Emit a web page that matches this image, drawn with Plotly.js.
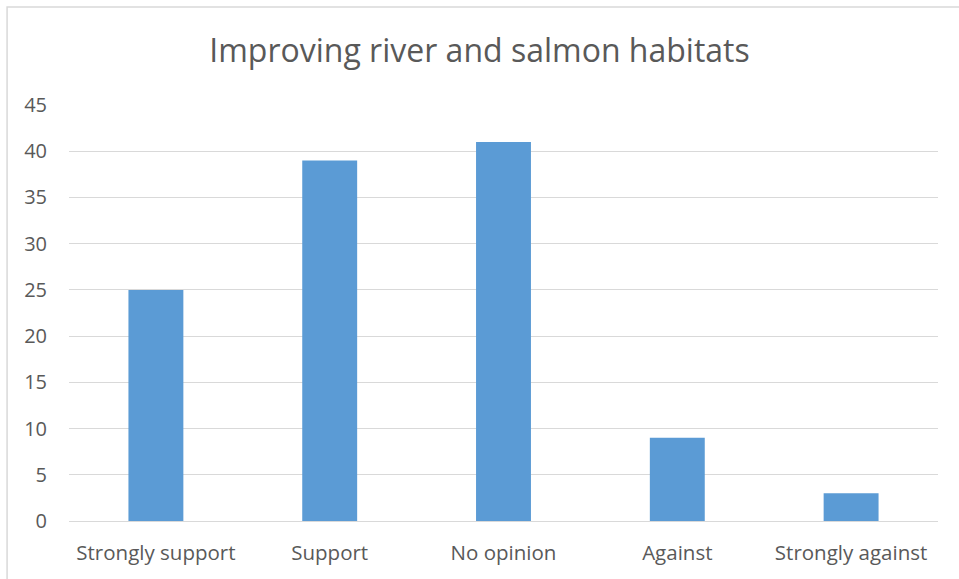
<!DOCTYPE html>
<html>
<head>
<meta charset="utf-8">
<script src="https://cdn.plot.ly/plotly-3.0.1.min.js"></script>
<style>html,body{margin:0;padding:0;background:#fff;}#chart{width:959px;height:579px;}</style>
</head>
<body>
<div id="chart"></div>
<script>
const categories = ["Strongly support", "Support", "No opinion", "Against", "Strongly against"];
const values = [25, 39, 41, 9, 3];
const yTicks = [0, 5, 10, 15, 20, 25, 30, 35, 40, 45];

const trace = {
  type: "bar",
  x: categories,
  y: values,
  marker: {color: "#5b9bd5"},
  hoverinfo: "x+y"
};

const layout = {
  width: 959,
  height: 579,
  margin: {l: 69, r: 21, t: 105, b: 58},
  paper_bgcolor: "#ffffff",
  plot_bgcolor: "#ffffff",
  bargap: 0.684,
  showlegend: false,
  font: {family: "Open Sans, Calibri, sans-serif", color: "#595959"},
  title: {
    text: "Improving river and salmon habitats",
    font: {size: 32, color: "#595959", family: "Open Sans, sans-serif"},
    x: 0.5, xanchor: "center",
    y: 1 - 51/579, yanchor: "middle"
  },
  xaxis: {
    type: "category",
    tickfont: {size: 20.5, color: "#595959"},
    showgrid: false,
    showline: true,
    linecolor: "#d9d9d9",
    linewidth: 1,
    ticks: "",
    ticklabelstandoff: 13,
    fixedrange: true
  },
  yaxis: {
    range: [0, 45],
    tickvals: yTicks,
    ticktext: yTicks.map(String),
    tickfont: {size: 20, color: "#595959"},
    showgrid: true,
    gridcolor: "#d9d9d9",
    gridwidth: 1,
    zeroline: false,
    showline: false,
    ticks: "",
    ticklabelstandoff: 21,
    fixedrange: true
  },
  shapes: [{
    type: "rect", xref: "paper", yref: "paper",
    x0: -62/870, x1: 1 + 60/870,
    y0: -0.3, y1: 1 + 98/416,
    line: {color: "#d9d9d9", width: 1.5},
    fillcolor: "rgba(0,0,0,0)",
    layer: "below"
  }]
};

Plotly.newPlot("chart", [trace], layout, {displayModeBar: false, staticPlot: true});
</script>
</body>
</html>
